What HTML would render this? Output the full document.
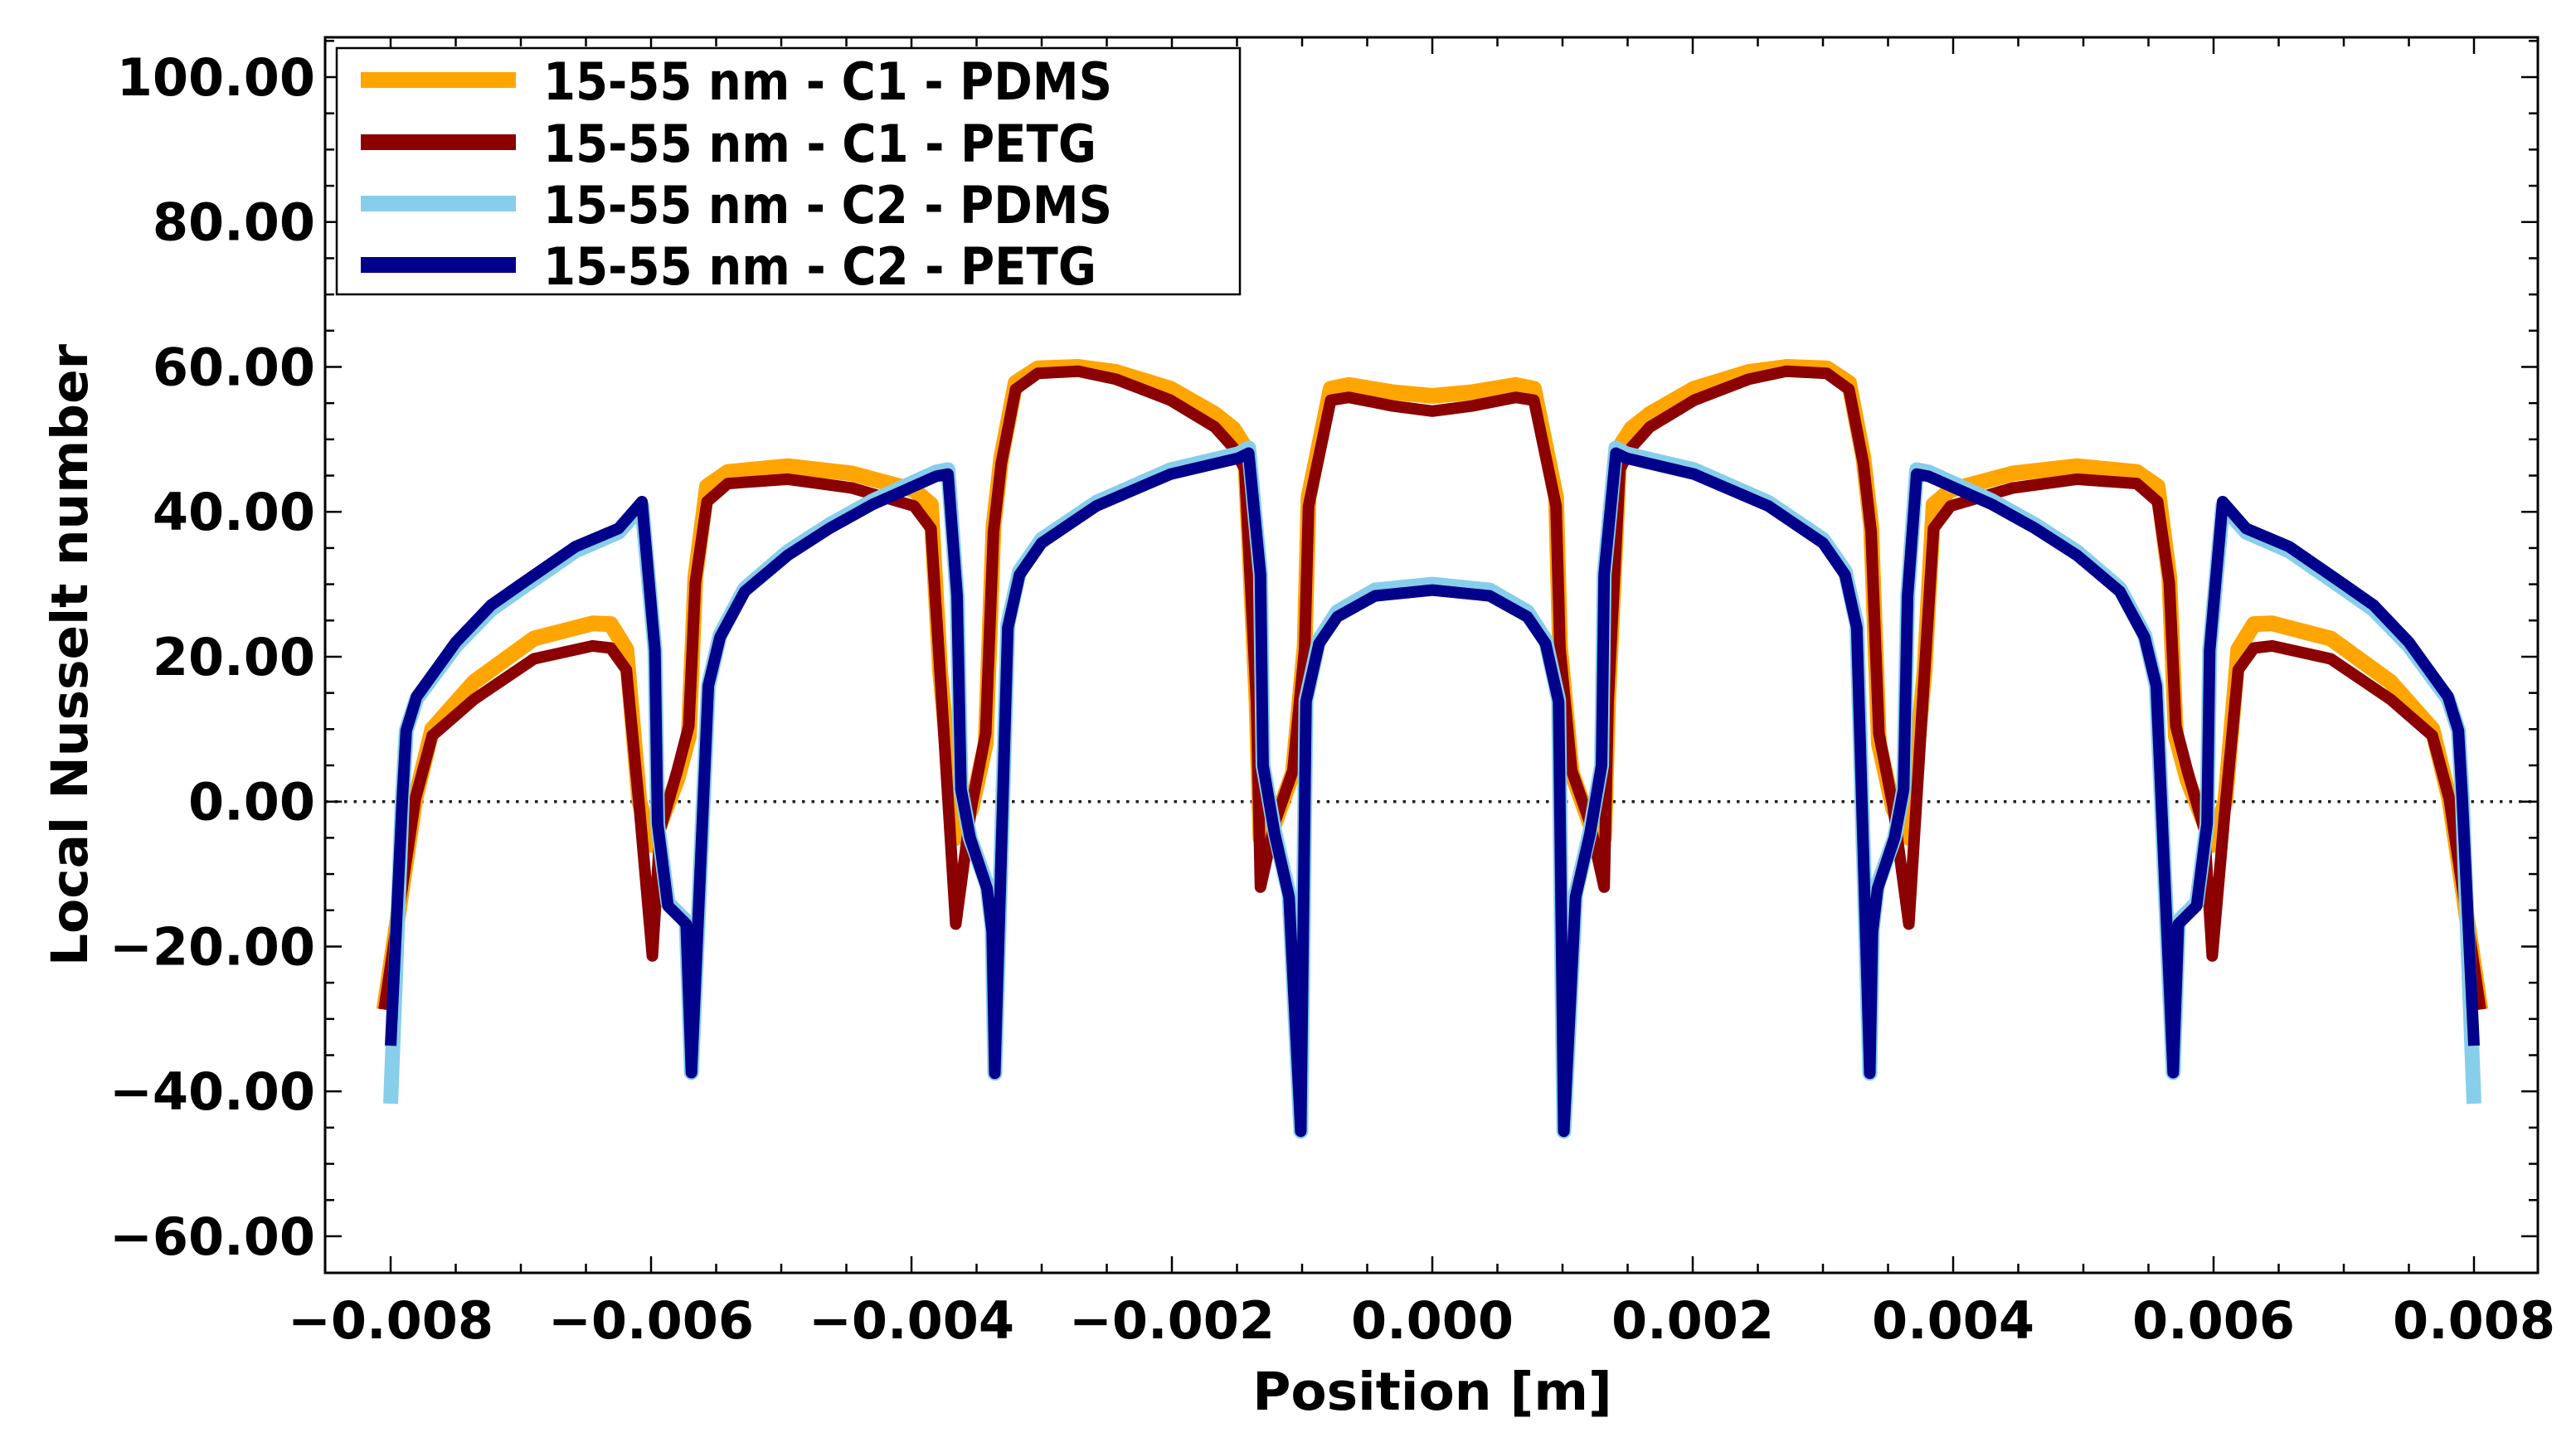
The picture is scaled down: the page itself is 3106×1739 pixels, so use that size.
<!DOCTYPE html>
<html><head><meta charset="utf-8"><style>
html,body{margin:0;padding:0;background:#fff;}
svg{display:block;}
text{font-family:"DejaVu Sans","Liberation Sans",sans-serif;font-weight:bold;fill:#000;}
</style></head>
<body>
<svg id="chart" width="3106" height="1739" viewBox="0 0 3106 1739" xmlns="http://www.w3.org/2000/svg">
<rect x="0" y="0" width="3106" height="1739" fill="#fff"/>
<g id="grid"></g>
<g id="series"></g>
<g id="axes"></g>
<text x="1727" y="1700" font-size="63" text-anchor="middle">Position [m]</text>
<text transform="translate(105,790) rotate(-90)" font-size="61" text-anchor="middle" textLength="750" lengthAdjust="spacingAndGlyphs">Local Nusselt number</text>
<g id="legend">
  <rect x="406" y="58" width="1089" height="297" fill="#fff" stroke="#000" stroke-width="2.5"/>
  <rect x="435" y="87" width="187" height="19" fill="#FFA500"/>
  <text x="655" y="120" font-size="62" textLength="686" lengthAdjust="spacingAndGlyphs">15-55 nm - C1 - PDMS</text>
  <rect x="435" y="162" width="187" height="19" fill="#8B0000"/>
  <text x="655" y="195" font-size="62" textLength="667" lengthAdjust="spacingAndGlyphs">15-55 nm - C1 - PETG</text>
  <rect x="435" y="236" width="187" height="19" fill="#87CEEB"/>
  <text x="655" y="269" font-size="62" textLength="686" lengthAdjust="spacingAndGlyphs">15-55 nm - C2 - PDMS</text>
  <rect x="435" y="310" width="187" height="19" fill="#00008B"/>
  <text x="655" y="343" font-size="62" textLength="667" lengthAdjust="spacingAndGlyphs">15-55 nm - C2 - PETG</text>
</g>
</svg>
<script>
// Left-half data (curves are symmetric about x = 0)
const redX = [-0.00805,-0.00781,-0.00768,-0.00736,-0.0069,-0.00645,-0.00631,-0.00619,-0.00609,-0.00599,-0.00593,-0.0058,-0.00571,-0.00566,-0.00557,-0.00541,-0.00495,-0.00446,-0.00398,-0.00385,-0.00378,-0.00366,-0.00354,-0.00343,-0.00337,-0.00331,-0.0032,-0.00303,-0.00272,-0.00243,-0.00201,-0.00167,-0.00153,-0.00144,-0.00135,-0.00132,-0.00121,-0.00107,-0.00098,-0.00095,-0.00078,-0.00064,-0.0003,0];
const c1PetgY = [-28.7,0.4,9.1,14.1,19.7,21.5,21.2,18.2,-0.8,-21.3,-3.9,4.2,10.4,30.2,41.4,43.9,44.5,43.3,40.8,37.7,17.8,-16.9,-0.8,9.4,37.2,46.7,56.9,59.1,59.4,58.3,55.4,51.7,48.9,45.9,13.8,-11.8,-2.9,4.3,21.1,40.8,55.4,55.8,54.6,53.9];
const c1PdmsY = [-28.7,0.4,10,16.5,22.5,24.6,24.5,21,0,-6,-3,3,9,31,43.5,45.5,46.3,45.3,43,41,18,-5,-1,8,38,47.5,57.8,59.8,60,59.3,57,53.5,51.5,49,14,-5,-3,4,21.5,42,57,57.5,56.5,56];
const blueX = [-0.0080,-0.00791,-0.00788,-0.0078,-0.0075,-0.00723,-0.0070,-0.00658,-0.00625,-0.00607,-0.00597,-0.00595,-0.00587,-0.00573,-0.00569,-0.00556,-0.00547,-0.00528,-0.00495,-0.00463,-0.0043,-0.00381,-0.00372,-0.00365,-0.00362,-0.00355,-0.00342,-0.00338,-0.00336,-0.00326,-0.00317,-0.003,-0.00258,-0.00201,-0.00149,-0.00141,-0.00132,-0.0013,-0.00121,-0.0011,-0.00101,-0.00097,-0.00087,-0.00073,-0.00044,0];
const c2PetgY = [-33.7,0.4,9.8,14.5,22,27.1,30,35.2,37.7,41.4,20.9,-3,-14.4,-16.9,-37.4,16,22.7,29,34,37.7,41,44.9,45.2,28.4,1.7,-5,-12,-18,-37.5,24,31.3,35.7,40.8,45.2,47.4,48.1,31.3,5,-4.5,-13.2,-45.5,13.8,21.8,25.5,28.4,29.2];
const c2PdmsY = [-41.7,0.4,9.8,14.2,21.5,26.5,29.4,34.6,37.2,40.8,20.9,-3,-14,-16.5,-37.4,16,23,29.4,34.5,38.2,41.5,45.5,45.8,28.4,1.7,-5,-11.5,-17.5,-37.5,24.5,31.8,36.2,41.3,45.8,48,48.8,31.3,5,-4.2,-12.8,-45.5,14,22.3,26.2,29.2,30];
const xTicks = [-0.008,-0.006,-0.004,-0.002,0,0.002,0.004,0.006,0.008];
const xTickLabels = ["\u22120.008","\u22120.006","\u22120.004","\u22120.002","0.000","0.002","0.004","0.006","0.008"];
const yTicks = [-60,-40,-20,0,20,40,60,80,100];
const yTickLabels = ["\u221260.00","\u221240.00","\u221220.00","0.00","20.00","40.00","60.00","80.00","100.00"];

const PL=392, PR=3060, PT=45, PB=1535;
const sx = v => 1727 + v/0.002*314;
const sy = v => 966.7 - v*8.737;
const NS='http://www.w3.org/2000/svg';
function mk(tag, attrs){const e=document.createElementNS(NS,tag);for(const k in attrs)e.setAttribute(k,attrs[k]);return e;}

function full(xs, ys){
  const px=[],py=[];
  for(let i=0;i<xs.length;i++){px.push(xs[i]);py.push(ys[i]);}
  for(let i=xs.length-1;i>=0;i--){ if(xs[i]===0) continue; px.push(-xs[i]); py.push(ys[i]); }
  return px.map((x,i)=>sx(x).toFixed(1)+','+sy(py[i]).toFixed(1)).join(' ');
}

const grid=document.getElementById('grid');
const zl=mk('line',{x1:PL,x2:PR,y1:sy(0),y2:sy(0),stroke:'#222','stroke-width':3.5,'stroke-dasharray':'3.5 8'});


grid.appendChild(zl);

const series=document.getElementById('series');
const defs=[
  {n:'line-c1-pdms',x:redX,y:c1PdmsY,c:'#FFA500',w:19},
  {n:'line-c1-petg',x:redX,y:c1PetgY,c:'#8B0000',w:14},
  {n:'line-c2-pdms',x:blueX,y:c2PdmsY,c:'#87CEEB',w:18},
  {n:'line-c2-petg',x:blueX,y:c2PetgY,c:'#00008B',w:14}
];
defs.forEach(d=>{
  const p=mk('polyline',{points:full(d.x,d.y),fill:'none',stroke:d.c,'stroke-width':d.w,'stroke-linejoin':'round','stroke-linecap':'butt'});
  
  
  series.appendChild(p);
});

const axes=document.getElementById('axes');
const frame=mk('rect',{x:PL,y:PT,width:PR-PL,height:PB-PT,fill:'none',stroke:'#000','stroke-width':3});


axes.appendChild(frame);
for(let v=-0.0085; v<=0.00851; v+=0.0005){
  const X=sx(v); if(X<PL+1||X>PR-1) continue;
  const major=Math.abs(Math.round(v/0.002)*0.002-v)<1e-7;
  const L=major?20:11;
  const t1=mk('line',{x1:X,x2:X,y1:PB,y2:PB-L,stroke:'#000','stroke-width':2.5});
  
  
  axes.appendChild(t1);
  const t2=mk('line',{x1:X,x2:X,y1:PT,y2:PT+L,stroke:'#000','stroke-width':2.5});
  
  
  axes.appendChild(t2);
}
xTicks.forEach((v,i)=>{
  const t=mk('text',{x:sx(v),y:1614,'font-size':62,'text-anchor':'middle'});
  t.textContent=xTickLabels[i];
  
  
  axes.appendChild(t);
});
for(let v=-65; v<=105; v+=5){
  const Y=sy(v); if(Y<PT+1||Y>PB-1) continue;
  const major=(v%20===0);
  const L=major?20:11;
  const t1=mk('line',{x1:PL,x2:PL+L,y1:Y,y2:Y,stroke:'#000','stroke-width':2.5});
  
  
  axes.appendChild(t1);
  const t2=mk('line',{x1:PR,x2:PR-L,y1:Y,y2:Y,stroke:'#000','stroke-width':2.5});
  
  
  axes.appendChild(t2);
}
yTicks.forEach((v,i)=>{
  const t=mk('text',{x:380,y:sy(v)+22,'font-size':62,'text-anchor':'end'});
  t.textContent=yTickLabels[i];
  
  
  axes.appendChild(t);
});
</script>
</body></html>
